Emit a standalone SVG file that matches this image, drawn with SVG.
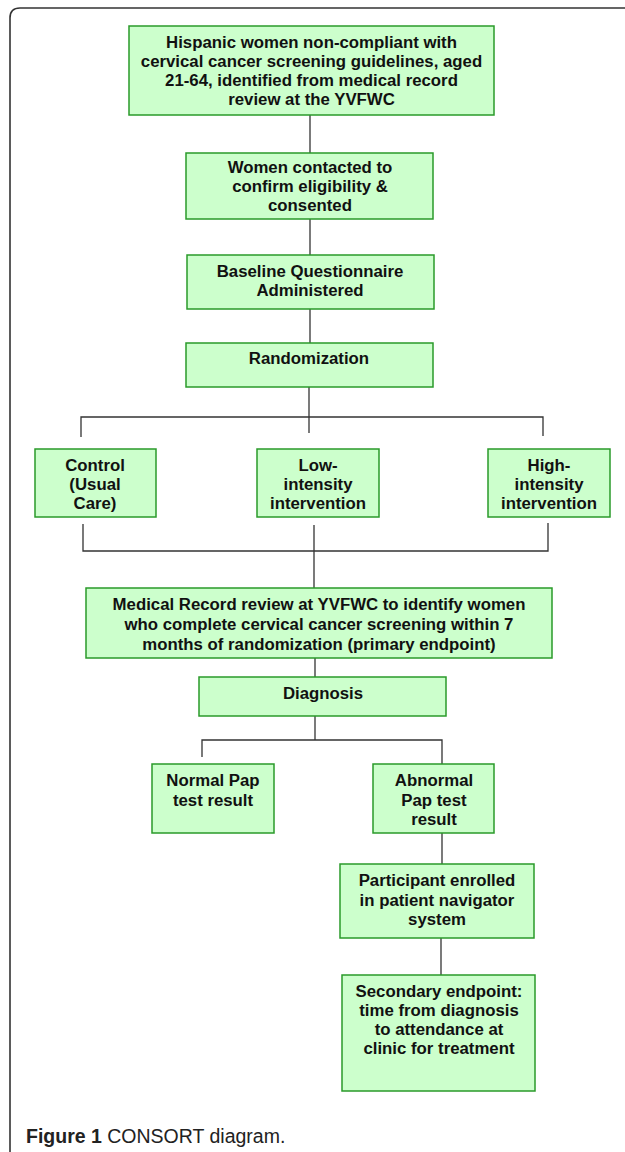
<svg xmlns="http://www.w3.org/2000/svg" width="625" height="1152" viewBox="0 0 625 1152">
<style>
.box{fill:#ccffcc;stroke:#2a9a2a;stroke-width:1.5}
.t{font-family:"Liberation Sans",Arial,sans-serif;font-weight:bold;font-size:16.8px;fill:#111;text-anchor:middle}
.c{fill:none;stroke:#333;stroke-width:1.3}
.frame{fill:none;stroke:#333;stroke-width:1.6}
.cap{font-family:"Liberation Sans",Arial,sans-serif;font-size:19.5px;fill:#222}
</style>
<rect width="625" height="1152" fill="#fff"/>
<path class="frame" d="M10,1152 V18 Q10,8 20,8 H625"/>
<g id="connectors">
<path class="c" d="M310,115 V153"/>
<path class="c" d="M310,219 V255"/>
<path class="c" d="M310,309 V343"/>
<path class="c" d="M309,387 V433"/>
<path class="c" d="M81,437 V417 H543 V436"/>
<path class="c" d="M83,524 V551 H548 V523"/>
<path class="c" d="M314,525 V588"/>
<path class="c" d="M315,658 V677"/>
<path class="c" d="M315,716 V740"/>
<path class="c" d="M202,757 V740 H442 V764"/>
<path class="c" d="M442,833 V864"/>
<path class="c" d="M441,938 V975"/>
</g>
<g id="n1"><rect class="box" x="129" y="26" width="365" height="89"/>
<text class="t"><tspan x="311.5" y="48">Hispanic women non-compliant with</tspan><tspan x="311.5" y="67">cervical cancer screening guidelines, aged</tspan><tspan x="311.5" y="86">21-64, identified from medical record</tspan><tspan x="311.5" y="105">review at the YVFWC</tspan></text></g>
<g id="n2"><rect class="box" x="186" y="153" width="247" height="66"/>
<text class="t"><tspan x="310" y="173">Women contacted to</tspan><tspan x="310" y="192">confirm eligibility &amp;</tspan><tspan x="310" y="211">consented</tspan></text></g>
<g id="n3"><rect class="box" x="187" y="255" width="247" height="54"/>
<text class="t"><tspan x="310" y="277">Baseline Questionnaire</tspan><tspan x="310" y="296">Administered</tspan></text></g>
<g id="n4"><rect class="box" x="186" y="343" width="247" height="44"/>
<text class="t" x="309" y="364">Randomization</text></g>
<g id="n5"><rect class="box" x="35" y="449" width="121" height="68"/>
<text class="t"><tspan x="95" y="471">Control</tspan><tspan x="95" y="490">(Usual</tspan><tspan x="95" y="509">Care)</tspan></text></g>
<g id="n6"><rect class="box" x="257" y="449" width="122" height="68"/>
<text class="t"><tspan x="318" y="471">Low-</tspan><tspan x="318" y="490">intensity</tspan><tspan x="318" y="509">intervention</tspan></text></g>
<g id="n7"><rect class="box" x="488" y="449" width="122" height="68"/>
<text class="t"><tspan x="549" y="471">High-</tspan><tspan x="549" y="490">intensity</tspan><tspan x="549" y="509">intervention</tspan></text></g>
<g id="n8"><rect class="box" x="86" y="588" width="466" height="70"/>
<text class="t"><tspan x="319" y="610">Medical Record review at YVFWC to identify women</tspan><tspan x="319" y="630">who complete cervical cancer screening within 7</tspan><tspan x="319" y="650">months of randomization (primary endpoint)</tspan></text></g>
<g id="n9"><rect class="box" x="199" y="677" width="247" height="39"/>
<text class="t" x="323" y="699">Diagnosis</text></g>
<g id="n10"><rect class="box" x="152" y="764" width="122" height="69"/>
<text class="t"><tspan x="213" y="786">Normal Pap</tspan><tspan x="213" y="806">test result</tspan></text></g>
<g id="n11"><rect class="box" x="373" y="764" width="121" height="69"/>
<text class="t"><tspan x="434" y="786">Abnormal</tspan><tspan x="434" y="806">Pap test</tspan><tspan x="434" y="825">result</tspan></text></g>
<g id="n12"><rect class="box" x="340" y="864" width="194" height="74"/>
<text class="t"><tspan x="437" y="886">Participant enrolled</tspan><tspan x="437" y="906">in patient navigator</tspan><tspan x="437" y="925">system</tspan></text></g>
<g id="n13"><rect class="box" x="342" y="975" width="193" height="116"/>
<text class="t"><tspan x="439" y="997">Secondary endpoint:</tspan><tspan x="439" y="1016">time from diagnosis</tspan><tspan x="439" y="1035">to attendance at</tspan><tspan x="439" y="1054">clinic for treatment</tspan></text></g>
<text class="cap" x="26" y="1143"><tspan font-weight="bold">Figure 1</tspan> CONSORT diagram.</text>
</svg>
